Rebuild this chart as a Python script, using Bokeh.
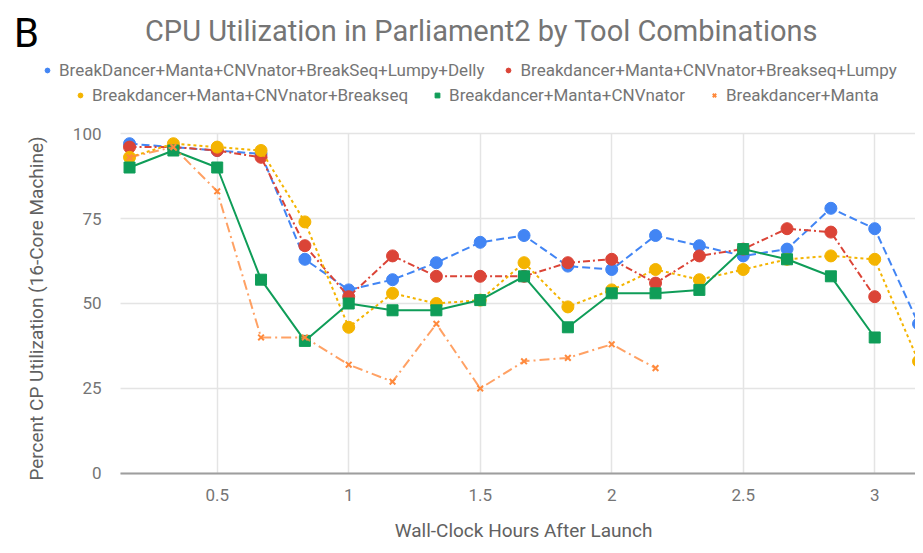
import math
from bokeh.plotting import figure
from bokeh.models import Range1d, FixedTicker, Legend, LegendItem, Label, ColumnDataSource, Grid
from bokeh.embed import file_html
from bokeh.resources import INLINE

# ---- data ----
minutes = [10, 20, 30, 40, 50, 60, 70, 80, 90, 100, 110, 120, 130, 140, 150, 160, 170, 180, 190]
names = [
    "BreakDancer+Manta+CNVnator+BreakSeq+Lumpy+Delly",
    "Breakdancer+Manta+CNVnator+Breakseq+Lumpy",
    "Breakdancer+Manta+CNVnator+Breakseq",
    "Breakdancer+Manta+CNVnator",
    "Breakdancer+Manta",
]
delly = [97, 96, 95, 94, 63, 54, 57, 62, 68, 70, 61, 60, 70, 67, 64, 66, 78, 72, 44]
lumpy = [96, 96, 95, 93, 67, 52, 64, 58, 58, 58, 62, 63, 56, 64, 66, 72, 71, 52]
breakseq = [93, 97, 96, 95, 74, 43, 53, 50, 51, 62, 49, 54, 60, 57, 60, 63, 64, 63, 33]
cnvnator = [90, 95, 90, 57, 39, 50, 48, 48, 51, 58, 43, 53, 53, 54, 66, 63, 58, 40]
manta = [93, 96, 83, 40, 40, 32, 27, 44, 25, 33, 34, 38, 31]
x_ticks = [0.5, 1, 1.5, 2, 2.5, 3]
x_tick_labels = ["0.5", "1", "1.5", "2", "2.5", "3"]
y_ticks = [0, 25, 50, 75, 100]
title_text = "CPU Utilization in Parliament2 by Tool Combinations"
panel_letter = "B"
x_label = "Wall-Clock Hours After Launch"
y_label = "Percent CP Utilization (16-Core Machine)"

series = [delly, lumpy, breakseq, cnvnator, manta]
colors = ["#4285F4", "#DB4437", "#F4B400", "#0F9D58", "#FF8A3D"]
dashes = ["8 4", "7 3 2 3", "3 3", "solid", "10 4 2 4"]
markers = ["circle", "circle", "circle", "square", "x"]
msizes = [12, 12, 12, 11, 8]

FONT = "Roboto"
W, H = 915, 545
# data window limits (left edge of the plot area, right edge of the canvas)
X_LEFT, X_RIGHT = 0.1323, 3.1551

p = figure(width=W, height=H, output_backend="svg", toolbar_location=None,
           x_range=Range1d(-0.3240, X_RIGHT), y_range=Range1d(-21.18, 139.12),
           min_border=0)
p.outline_line_color = None
p.background_fill_color = "white"
p.border_fill_color = "white"

# axes drawn at fixed data locations
p.xaxis.fixed_location = 0
p.yaxis.fixed_location = X_LEFT
p.xaxis.bounds = (X_LEFT, X_RIGHT)
p.yaxis.bounds = (0, 100)
p.xaxis.ticker = FixedTicker(ticks=x_ticks)
p.xaxis.major_label_overrides = {t: l for t, l in zip(x_ticks, x_tick_labels)}
p.yaxis.ticker = FixedTicker(ticks=y_ticks)
for ax in (p.xaxis, p.yaxis):
    ax.major_tick_line_color = None
    ax.minor_tick_line_color = None
    ax.major_label_text_font = FONT
    ax.major_label_text_font_size = "17px"
    ax.major_label_text_color = "#757575"
p.yaxis.axis_line_color = None
p.xaxis.axis_line_color = "#9e9e9e"
p.xaxis.axis_line_width = 2
p.yaxis.major_label_standoff = 13
p.xaxis.major_label_standoff = 10

# grid restricted to the data window
grid_color = "#e4e4e4"
if "cross_bounds" in Grid.properties():
    p.xgrid.ticker = FixedTicker(ticks=x_ticks)
    p.ygrid.ticker = FixedTicker(ticks=y_ticks)
    p.xgrid.cross_bounds = (y_ticks[0], y_ticks[-1])
    p.ygrid.cross_bounds = (X_LEFT, X_RIGHT)
    for g in (p.xgrid, p.ygrid):
        g.grid_line_color = grid_color
        g.grid_line_width = 1.5
else:
    p.xgrid.visible = False
    p.ygrid.visible = False
    p.segment(x0=x_ticks, y0=[y_ticks[0]] * len(x_ticks), x1=x_ticks, y1=[y_ticks[-1]] * len(x_ticks),
              line_color=grid_color, line_width=1.5)
    p.segment(x0=[X_LEFT] * len(y_ticks), y0=y_ticks, x1=[X_RIGHT] * len(y_ticks), y1=y_ticks,
              line_color=grid_color, line_width=1.5)

items = []
for vals, name, c, d, m, s in zip(series, names, colors, dashes, markers, msizes):
    src = ColumnDataSource(dict(x=[mm / 60 for mm in minutes[:len(vals)]], y=vals))
    p.line("x", "y", source=src, line_color=c, line_width=2, line_dash=d,
           line_alpha=0.8 if m == "x" else 1.0)
    if m == "x":
        r = p.scatter("x", "y", source=src, marker=m, size=s, line_color=c, line_width=2)
    else:
        r = p.scatter("x", "y", source=src, marker=m, size=s, fill_color=c, line_color=c)
    items.append(LegendItem(label=name, renderers=[r]))

def style(leg, spacing):
    leg.orientation = "horizontal"
    leg.border_line_color = None
    leg.background_fill_alpha = 0
    leg.padding = 0
    leg.margin = 0
    leg.spacing = spacing
    leg.glyph_width = 12
    leg.glyph_height = 12
    leg.label_standoff = 6
    leg.label_text_font = FONT
    leg.label_text_font_size = "17px"
    leg.label_text_color = "#757575"
    return leg

# locations: screen px from the bottom-left of the canvas
p.add_layout(style(Legend(items=items[:2], location=(41, 465)), 18), "center")
p.add_layout(style(Legend(items=items[2:], location=(74, 440)), 23), "center")

def text(x, y, t, size, color, angle=0.0):
    p.add_layout(Label(x=x, y=y, x_units="screen", y_units="screen", text=t, angle=angle,
                       text_font=FONT, text_font_size=size, text_color=color,
                       text_align="center", text_baseline="middle"))

text(481, 515, title_text, "29px", "#757575")
text(26, 512, panel_letter, "40px", "#000000")
text(523, 15, x_label, "19px", "#616161")
text(36, 237, y_label, "19px", "#616161", angle=math.pi / 2)

open("out.html", "w").write(file_html(p, INLINE))
